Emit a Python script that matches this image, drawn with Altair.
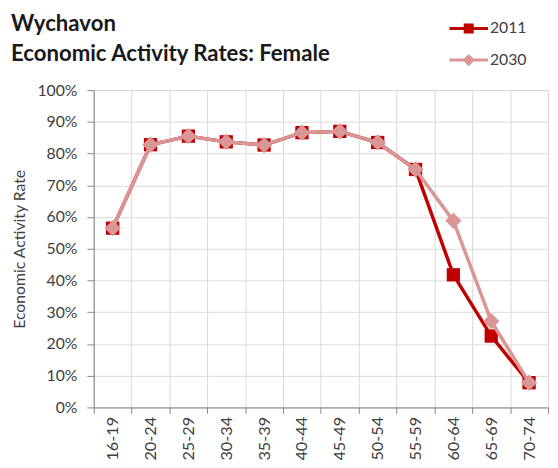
import altair as alt
import pandas as pd

ages = ["16-19", "20-24", "25-29", "30-34", "35-39", "40-44",
        "45-49", "50-54", "55-59", "60-64", "65-69", "70-74"]
rate_2011 = [0.565, 0.828, 0.855, 0.837, 0.827, 0.866,
             0.870, 0.835, 0.750, 0.418, 0.225, 0.078]
rate_2030 = [0.565, 0.828, 0.855, 0.837, 0.827, 0.866,
             0.870, 0.835, 0.750, 0.588, 0.272, 0.078]
series_names = ["2011", "2030"]
series_colors = ["#C00000", "#D99694"]
y_ticks = [0.0, 0.1, 0.2, 0.3, 0.4, 0.5, 0.6, 0.7, 0.8, 0.9, 1.0]

rows = []
for a, v in zip(ages, rate_2011):
    rows.append({"age": a, "series": "2011", "rate": v})
for a, v in zip(ages, rate_2030):
    rows.append({"age": a, "series": "2030", "rate": v})
df = pd.DataFrame(rows)

FONT = "Lato"
TXT = "#404040"

color_scale = alt.Scale(domain=series_names, range=series_colors)

x_enc = alt.X("age:N", sort=ages,
              scale=alt.Scale(type="band", paddingInner=0, paddingOuter=0),
              axis=alt.Axis(title=None, labelAngle=-90, labelFont=FONT,
                            labelFontSize=16.5, labelColor=TXT, labelPadding=3,
                            tickBand="extent", tickSize=6, tickColor="#868686",
                            domainColor="#868686", grid=True,
                            gridColor="#D9D9D9"))
y_enc = alt.Y("rate:Q", scale=alt.Scale(domain=[0, 1], nice=False),
              axis=alt.Axis(format=".0%", values=y_ticks,
                            title="Economic Activity Rate", titleFont=FONT,
                            titleFontSize=16, titleFontWeight="normal",
                            titleColor=TXT, titlePadding=10,
                            labelFont=FONT, labelFontSize=16, labelColor=TXT,
                            labelPadding=10, tickSize=7, tickColor="#868686",
                            domainColor="#868686", gridColor="#D9D9D9"))

base = alt.Chart(df)


def series_layers(idx, shape, size):
    name = series_names[idx]
    col = series_colors[idx]
    sub = base.transform_filter(alt.datum.series == name)
    line = sub.mark_line(strokeWidth=3.5, color=col).encode(x=x_enc, y=y_enc)
    pts = sub.mark_point(shape=shape, filled=True, opacity=1, size=size,
                         color=col).encode(x=x_enc, y=y_enc)
    return [line, pts]


path_2011 = "M-1,-0.08H1V0.08H-1Z M-0.26,-0.26H0.26V0.26H-0.26Z"
path_2030 = "M-1,-0.08H1V0.08H-1Z M0,-0.32L0.32,0L0,0.32L-0.32,0Z"

leg = alt.Legend(orient="none", legendX=361, legendY=-82, title=None,
                 labelFont=FONT, labelFontSize=16, labelColor=TXT,
                 labelOffset=2, padding=0, symbolSize=1521,
                 symbolStrokeWidth=0, rowPadding=4)

legend_layer = base.transform_filter("false").mark_point(
    filled=True, opacity=1, size=1521).encode(
    x=x_enc, y=y_enc,
    color=alt.Color("series:N", scale=color_scale, legend=leg),
    shape=alt.Shape("series:N",
                    scale=alt.Scale(domain=series_names,
                                    range=[path_2011, path_2030]),
                    legend=leg))

layers = series_layers(0, "square", 182) + series_layers(1, "diamond", 272)
layers.append(legend_layer)

chart = alt.layer(*layers).properties(
    width=461, height=322,
    autosize=alt.AutoSizeParams(type="none"),
    padding={"left": 87, "top": 80, "right": 2, "bottom": 50},
    title=alt.TitleParams(
        text=["Wychavon", "Economic Activity Rates: Female"],
        anchor="start", frame="group", dx=-84, dy=61, fontSize=22.5, font=FONT,
        fontWeight="bold", color="#1a1a1a", lineHeight=31),
).configure_view(stroke=None).configure(font=FONT)

chart.save("out.html", embed_options={"renderer": "svg", "actions": False})
